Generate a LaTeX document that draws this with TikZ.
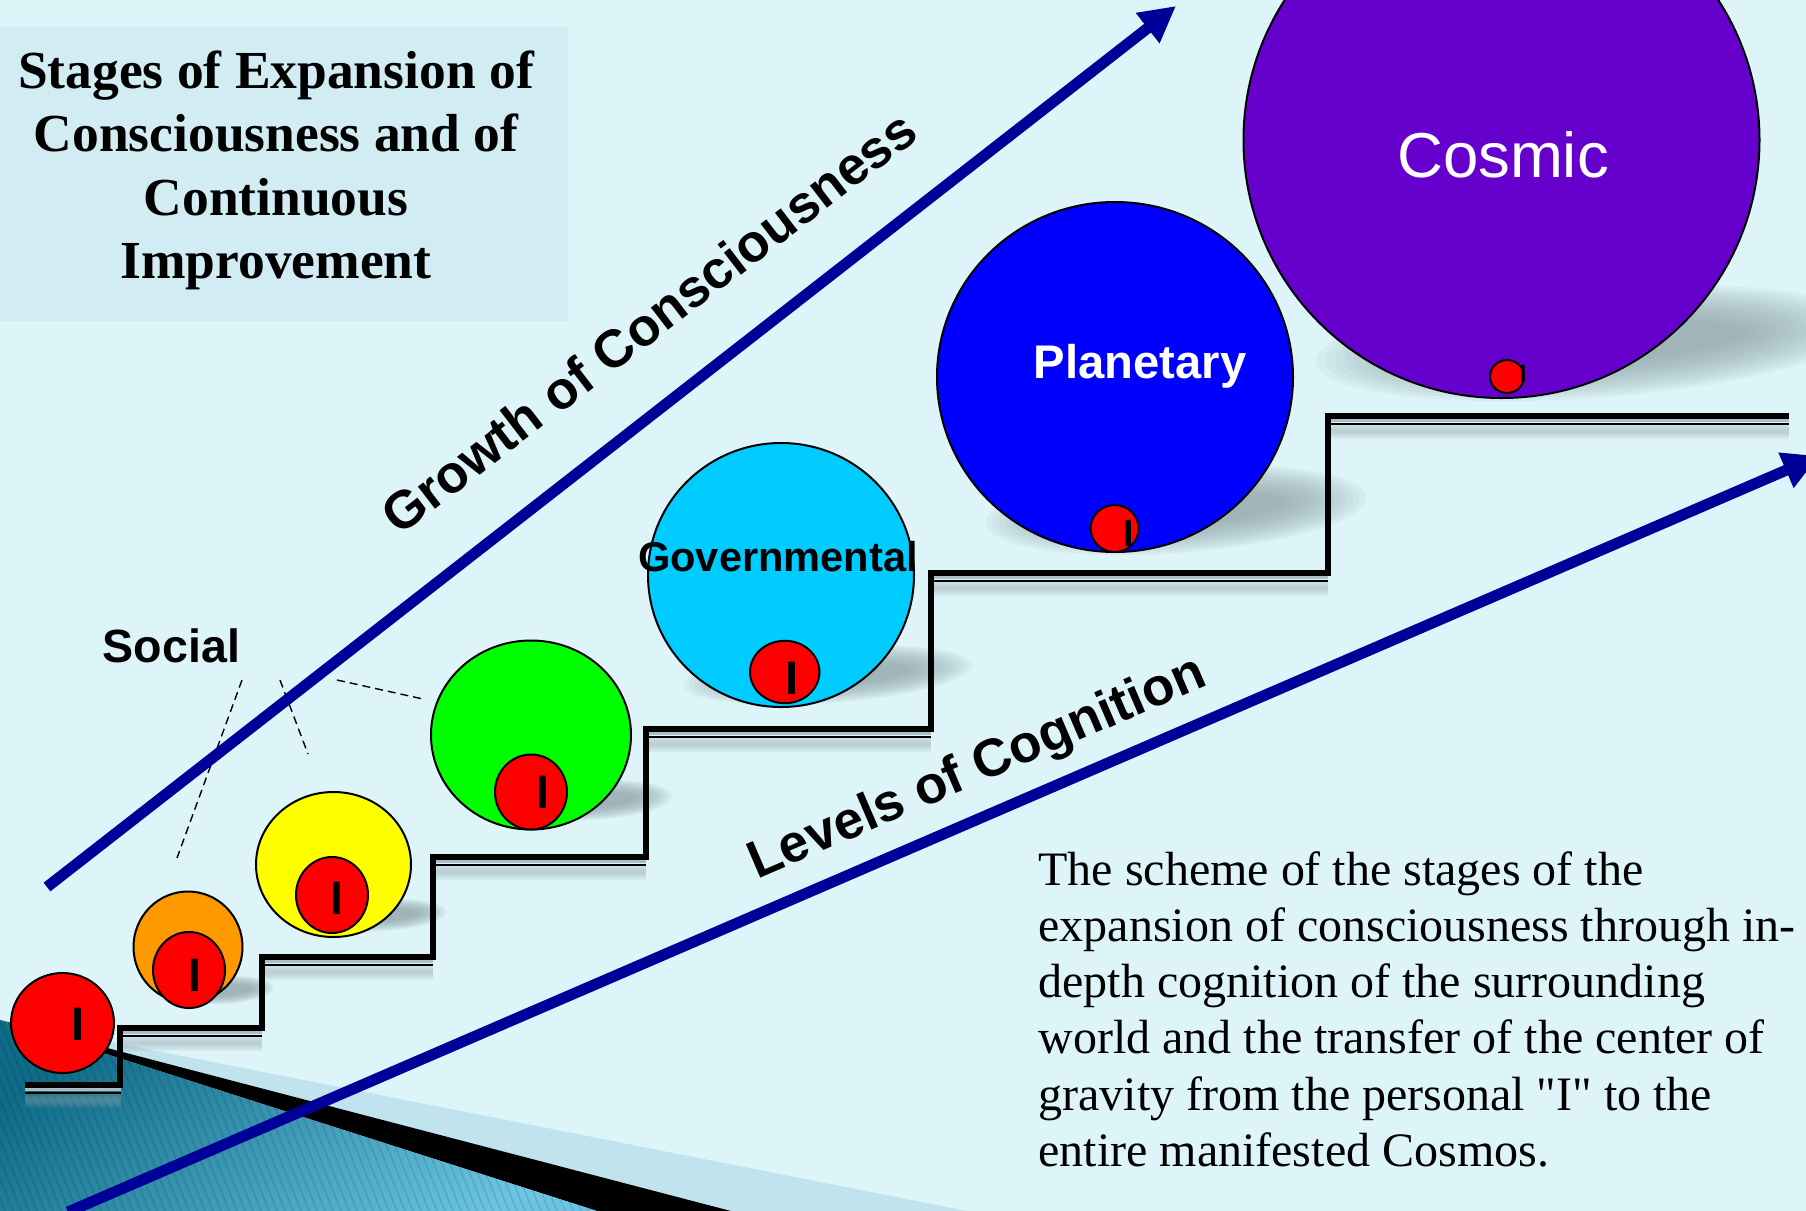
\documentclass[tikz,border=0pt]{standalone}
\usepackage{fontspec}
\setmainfont{Liberation Serif}
\newfontfamily\plainserif{Liberation Serif}[Ligatures=TeXOff]
\newfontfamily\arialf{Liberation Sans}
\usetikzlibrary{shapes.geometric,arrows.meta}
\definecolor{bgc}{HTML}{DDF4F9}
\definecolor{titlebg}{HTML}{D2ECF3}
\definecolor{navy}{HTML}{000099}
\definecolor{shadowc}{HTML}{8FA3A7}
\definecolor{tealdark}{HTML}{0E6C88}
\definecolor{teallight}{HTML}{6CC6E3}
\definecolor{stripc}{HTML}{C0E3ED}
\definecolor{redI}{HTML}{FF0000}
\definecolor{orangeI}{HTML}{FF9900}
\definecolor{yellowI}{HTML}{FFFF00}
\definecolor{greenI}{HTML}{00FF00}
\definecolor{cyanI}{HTML}{00CCFF}
\definecolor{blueI}{HTML}{0000FF}
\definecolor{purpleI}{HTML}{6600CC}
\definecolor{gapc}{HTML}{A9BFC4}
\tikzset{
  ball/.style={ellipse, draw=black, line width=1pt, inner sep=0pt, outer sep=0pt},
  ibig/.style={font=\arialf\bfseries\fontsize{23.5}{24}\selectfont, inner sep=0pt, anchor=center},
  titlef/.style={font=\bfseries\fontsize{26.75}{30}\selectfont, inner sep=0pt, anchor=base},
  bodyf/.style={font=\plainserif\fontsize{24}{28}\selectfont, inner sep=0pt, anchor=base west},
  axisf/.style={font=\arialf\bfseries\fontsize{26.5}{30}\selectfont, inner sep=0pt, anchor=base},
  bigarrow/.style={draw=navy, line width=5.5pt, -{Triangle[length=18pt,width=18pt]}},
  stairthick/.style={line width=3pt, black, line join=miter},
  connector/.style={dashed, line width=0.7pt, dash pattern=on 4pt off 2.5pt}
}
\newcommand\softshade[5]{%
  \foreach \k in {0,...,13}{%
    \fill[shadowc, opacity=0.09, rotate around={#5:(#1,#2)}] (#1,#2) ellipse [x radius={#3*(1-0.035*\k)*0.5pt}, y radius={#4*(1-0.05*\k)*0.5pt}];
  }%
}
\newcommand\treadfx[3]{%
  \foreach \w in {2,4,6,8}{\draw[shadowc, opacity=0.13, line width=\w pt] (#1,#3+15) -- (#2,#3+15);}%
  \draw[gapc, line width=1.5pt] (#1,#3+4.75) -- (#2,#3+4.75);%
  \draw[black, line width=1.3pt] (#1,#3+8) -- (#2,#3+8);%
}
\begin{document}
\begin{tikzpicture}[x=0.5pt,y=-0.5pt]
\useasboundingbox (0,0) rectangle (1806,1211);
\clip (0,0) rectangle (1806,1211);
\fill[bgc] (0,0) rectangle (1806,1211);
% bottom-left decoration
\fill[stripc] (0,1020) -- (967,1211) -- (731,1211) -- cycle;
\fill[black] (0,1020) -- (731,1211) -- (597,1211) -- cycle;
\begin{scope}
  \clip (0,1020) -- (597,1211) -- (0,1211) -- cycle;
  \shade[top color=tealdark, bottom color=teallight, shading angle=40] (0,1000) rectangle (620,1215);
  \foreach \i in {-15,...,80} \draw[black, opacity=0.09, line width=1pt] (\i*8,1000) -- (\i*8+85,1211);
\end{scope}
% title box
\fill[titlebg] (0,26) rectangle (568,321);
\node[titlef] (title1) at (276,88) {Stages of Expansion of};
\node[titlef] (title2) at (276,151.7) {Consciousness and of};
\node[titlef] (title3) at (276,215) {Continuous};
\node[titlef] (title4) at (276,278.3) {Improvement};
% shadows
\softshade{1590}{343}{275}{55}{4}
\softshade{1176}{510}{191}{43}{4}
\softshade{828}{675}{145}{28}{4}
\softshade{592}{800}{80}{20}{3}
\softshade{382}{915}{65}{16}{3}
\softshade{224}{990}{50}{14}{3}
% stairs
\treadfx{25}{121}{1085}
\treadfx{123}{262}{1028}
\treadfx{265}{433}{957}
\treadfx{436}{646}{857}
\treadfx{648}{931}{729}
\treadfx{934}{1328}{573}
\treadfx{1331}{1789}{416}
\draw[stairthick] (25,1085) -- (120,1085) -- (120,1028) -- (262,1028) -- (262,957) -- (433,957) -- (433,857) -- (646,857) -- (646,729) -- (931,729) -- (931,573) -- (1328,573) -- (1328,416) -- (1789,416);
% dashed connectors from the Social label
\coordinate (d1a) at (242,680); \coordinate (d1b) at (177,858);
\coordinate (d2a) at (280,680); \coordinate (d2b) at (308,754);
\coordinate (d3a) at (337,680); \coordinate (d3b) at (423,699);
\draw[connector] (d1a) -- (d1b);
\draw[connector] (d2a) -- (d2b);
\draw[connector] (d3a) -- (d3b);
% growth arrow
\coordinate (g0) at (47,887);
\coordinate (g1) at (1176,6);
\draw[bigarrow] (g0) -- (g1);
% circles
\node[ball, fill=redI, minimum width=51.5pt, minimum height=50pt] (ego) at (62.5,1023) {};
\node[ibig] (egoI) at (78,1024) {I};
\node[ball, fill=orangeI, minimum width=54.5pt, minimum height=55.5pt] (family) at (188,947) {};
\node[ball, fill=redI, minimum width=36pt, minimum height=38pt] (familyr) at (189,970) {};
\node[ibig] (familyI) at (195.5,975) {I};
\node[ball, fill=yellowI, minimum width=77.5pt, minimum height=72.5pt] (group) at (333.5,864.5) {};
\node[ball, fill=redI, minimum width=36pt, minimum height=38pt] (groupr) at (332,895) {};
\node[ibig] (groupI) at (337,898) {I};
\node[ball, fill=greenI, minimum width=100pt, minimum height=94.5pt] (social) at (531,735) {};
\node[ball, fill=redI, minimum width=36pt, minimum height=37.5pt] (socialr) at (531,792) {};
\node[ibig] (socialI) at (543.5,792.5) {I};
\node[ball, fill=cyanI, minimum width=133pt, minimum height=132pt] (gov) at (781,575) {};
\node[ball, fill=redI, minimum width=34.7pt, minimum height=31.2pt] (govr) at (784.7,672) {};
\node[ibig] (govI) at (792,678.5) {I};
\node[ball, fill=blueI, minimum width=178pt, minimum height=175pt] (planet) at (1115,377) {};
\node[ball, fill=redI, minimum width=24pt, minimum height=23.5pt] (planetr) at (1114.6,528.5) {};
\node[font=\arialf\bfseries\fontsize{19}{20}\selectfont, inner sep=0pt] (planetI) at (1129,533.5) {I};
\node[ball, fill=purpleI, minimum width=258pt, minimum height=258pt] (cosmos) at (1501.5,140) {};
\node[ball, fill=redI, minimum width=17pt, minimum height=16.5pt] (cosmosr) at (1507,376.5) {};
\node[font=\arialf\bfseries\fontsize{12.5}{13}\selectfont, inner sep=0pt] (cosmosI) at (1523,374) {I};
% stage labels
\node[font=\arialf\bfseries\fontsize{23.3}{26}\selectfont, inner sep=0pt, anchor=base] (lsocial) at (171.5,662) {Social};
\node[font=\arialf\bfseries\fontsize{20.8}{24}\selectfont, inner sep=0pt, anchor=base] (lgov) at (778,571) {Governmental};
\node[font=\arialf\bfseries\fontsize{23.6}{26}\selectfont, inner sep=0pt, anchor=base, text=white] (lplanet) at (1140,378) {Planetary};
\node[font=\arialf\fontsize{31.75}{34}\selectfont, inner sep=0pt, anchor=base, text=white] (lcosmic) at (1503,177) {Cosmic};
% levels arrow
\coordinate (l0) at (68,1212);
\coordinate (l1) at (1819,456);
\draw[bigarrow] (l0) -- (l1);
% axis labels
\node[axisf, rotate=37.5] (growth) at (660,337) {Growth of Consciousness};
\node[axisf, rotate=23.3] (levels) at (983,782) {Levels of Cognition};
% explanatory text
\node[bodyf] (b1) at (1038,885) {The scheme of the stages of the};
\node[bodyf] (b2) at (1038,941.3) {expansion of consciousness through in-};
\node[bodyf] (b3) at (1038,997.6) {depth cognition of the surrounding};
\node[bodyf] (b4) at (1038,1053.9) {world and the transfer of the center of};
\node[bodyf] (b5) at (1038,1110.2) {gravity from the personal "I" to the};
\node[bodyf] (b6) at (1038,1166.5) {entire manifested Cosmos.};
\end{tikzpicture}
\end{document}
